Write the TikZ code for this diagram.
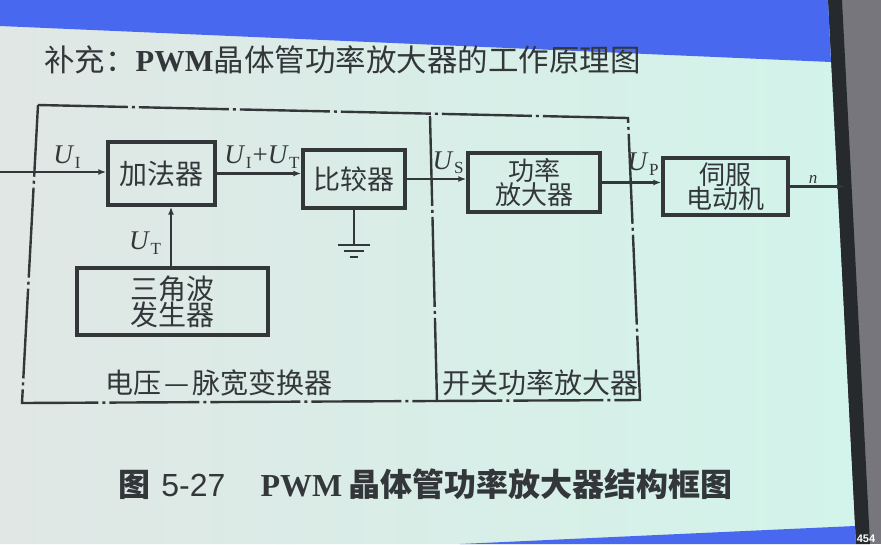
\documentclass[tikz,border=0pt]{standalone}
\usepackage{fontspec}
\setmainfont{Liberation Serif}
\newfontfamily\cjk{Noto Sans CJK SC}
\newfontfamily\lsans{Liberation Sans}
\usetikzlibrary{arrows.meta,calc}
\definecolor{ink}{RGB}{52,55,58}
\definecolor{slideL}{RGB}{224,231,229}
\definecolor{slideR}{RGB}{210,244,234}
\definecolor{band}{RGB}{72,104,240}
\definecolor{frameD}{RGB}{38,42,44}
\definecolor{frameG}{RGB}{118,118,124}
% italic voltage symbol with an upright subscript
\newcommand\volt[1]{\textit{U}\kern0.5pt\raisebox{-0.35ex}{\fontsize{17}{17}\selectfont #1}}
\begin{document}
\begin{tikzpicture}[x=1pt,y=-1pt,
  blk/.style={draw=ink,line width=3.4pt,inner sep=0pt,font=\cjk\fontsize{26}{28}\selectfont,text=ink,align=center},
  wire/.style={draw=ink,line width=2.4pt},
  arr/.style={wire,-{Latex[length=8pt,width=6pt]}},
  zone/.style={draw=ink,line width=2.4pt,dash pattern=on 90pt off 4pt on 3pt off 4pt},
  sig/.style={text=ink,font=\fontsize{27}{30}\selectfont,inner sep=1pt},
  zlabel/.style={text=ink,font=\cjk\fontsize{28}{30}\selectfont,inner sep=0pt}]
\useasboundingbox (0,0) rectangle (881,544);
% screen surround, slide surface, bands
\fill[frameG] (0,0) rectangle (881,544);
\shade[left color=slideL,right color=slideR] (0,0) -- (828,0) -- (856,544) -- (0,544) -- cycle;
\fill[frameD] (828,0) -- (842,0) -- (870,544) -- (856,544) -- cycle;
\fill[band] (0,0) -- (828,0) -- (831,62) -- (0,26) -- cycle;
\fill[band] (460,544) -- (855,526) -- (856,544) -- cycle;
\node[text=white,font=\lsans\fontsize{11}{12}\selectfont\bfseries,inner sep=0pt] (page) at (866,539) {454};

% heading
\node[anchor=west,text=ink,inner sep=0pt] (title) at (44,60)
  {\cjk\fontsize{30.5}{32}\selectfont 补充：\textbf{\rmfamily PWM}晶体管功率放大器的工作原理图};

% the two functional zones
\draw[zone] (38,105) -- (628,118) -- (640,400) -- (22,403) -- cycle;
\draw[zone] (430,116) -- (437,402);
\node[zlabel] (zone1) at (219,383) {电压\hspace{0.1em}—\hspace{0.1em}脉宽变换器};
\node[zlabel] (zone2) at (540,383) {开关功率放大器};

% blocks
\node[blk,minimum width=107pt,minimum height=63pt,font=\cjk\fontsize{28}{30}\selectfont] (add) at (161.5,173.5) {加法器};
\node[blk,minimum width=102pt,minimum height=58pt,font=\cjk\fontsize{27}{30}\selectfont] (cmp) at (354,179) {比较器};
\node[blk,minimum width=132pt,minimum height=59pt] (pa) at (534,182.5) {功率\\[-4pt]放大器};
\node[blk,minimum width=125pt,minimum height=57pt] (motor) at (725.5,186.5) {伺服\\[-4pt]电动机};
\node[blk,minimum width=191pt,minimum height=67pt,font=\cjk\fontsize{28}{30}\selectfont] (tri) at (172.5,301.5) {三角波\\[-4pt]发生器};

% signal path
\coordinate (in) at (0,172);
\coordinate (out) at (845,187);
\coordinate (ut) at (171,0);
\draw[arr] (in) -- (in -| add.west);
\draw[arr] (add.east) -- (add.east -| cmp.west);
\draw[arr] (cmp.east) -- (cmp.east -| pa.west);
\draw[arr] (pa.east) -- (pa.east -| motor.west);
\draw[arr] (motor.east) -- (motor.east -| out);
\draw[arr] (tri.north -| ut) -- (add.south -| ut);

% comparator reference to ground
\coordinate (gnd) at ($(cmp.south)+(0,35)$);
\draw[wire] (cmp.south) -- (gnd);
\draw[wire] ($(gnd)+(-16,0)$) -- ($(gnd)+(16,0)$);
\draw[wire] ($(gnd)+(-10,6)$) -- ($(gnd)+(10,6)$);
\draw[wire] ($(gnd)+(-4,12)$) -- ($(gnd)+(4,12)$);

% signal labels
\node[sig] (lUI) at (67,157) {\volt{I}};
\node[sig] (lUIT) at (262,157) {\volt{I}\kern1pt+\volt{T}};
\node[sig] (lUS) at (448,163) {\volt{S}};
\node[sig] (lUP) at (643,164) {\volt{P}};
\node[sig,font=\fontsize{17}{18}\selectfont\itshape] (ln) at (813,179) {n};
\node[sig] (lUT) at (145,243) {\volt{T}};

% caption
\node[anchor=west,text=ink,inner sep=0pt] (caption) at (118,484)
  {\cjk\fontsize{32}{34}\selectfont\bfseries 图\hspace{0.35em}{\lsans\mdseries 5-27}\hspace{1.1em}{\rmfamily PWM}\hspace{0.2em}晶体管功率放大器结构框图};
\end{tikzpicture}
\end{document}
